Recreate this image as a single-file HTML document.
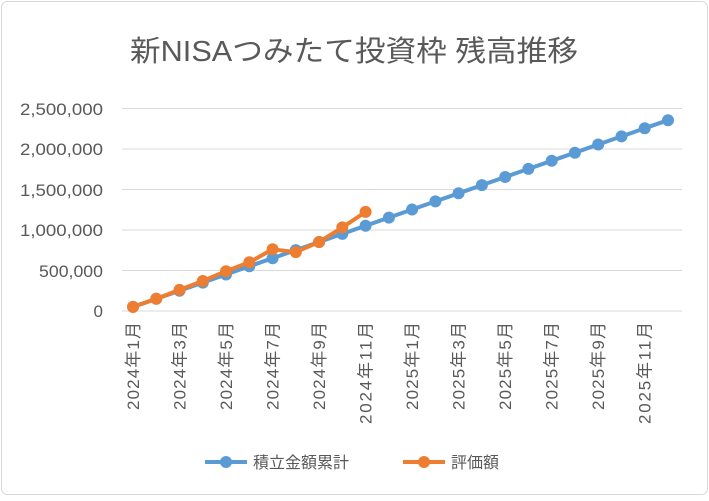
<!DOCTYPE html>
<html><head><meta charset="utf-8"><style>
body{margin:0;background:#fff;}
svg text{font-family:"Liberation Sans","Noto Sans CJK JP",sans-serif;fill:#595959;}
</style></head><body>
<svg width="709" height="496" viewBox="0 0 709 496" xmlns="http://www.w3.org/2000/svg">
<rect x="1.5" y="1.5" width="706" height="493" rx="6" fill="#fff" stroke="#d9d9d9"/>
<text x="354" y="61" font-size="29" text-anchor="middle" textLength="448" lengthAdjust="spacingAndGlyphs">新NISAつみたて投資枠 残高推移</text>
<g stroke="#d9d9d9" stroke-width="1">
<line x1="122" x2="682" y1="108.5" y2="108.5"/><line x1="122" x2="682" y1="149" y2="149"/>
<line x1="122" x2="682" y1="189.5" y2="189.5"/><line x1="122" x2="682" y1="230" y2="230"/>
<line x1="122" x2="682" y1="270.5" y2="270.5"/><line x1="122" x2="682" y1="311" y2="311"/>
</g>
<g font-size="17" text-anchor="end">
<text x="103" y="115" textLength="83" lengthAdjust="spacingAndGlyphs">2,500,000</text><text x="103" y="155" textLength="83" lengthAdjust="spacingAndGlyphs">2,000,000</text>
<text x="103" y="196" textLength="83" lengthAdjust="spacingAndGlyphs">1,500,000</text><text x="103" y="236" textLength="83" lengthAdjust="spacingAndGlyphs">1,000,000</text>
<text x="103" y="277" textLength="64" lengthAdjust="spacingAndGlyphs">500,000</text><text x="103" y="317">0</text>
</g>
<g font-size="17" text-anchor="end" lengthAdjust="spacingAndGlyphs">
<text transform="translate(139,322) rotate(-90)" textLength="88">2024年1月</text>
<text transform="translate(185.5,322) rotate(-90)" textLength="88">2024年3月</text>
<text transform="translate(232,322) rotate(-90)" textLength="88">2024年5月</text>
<text transform="translate(278.6,322) rotate(-90)" textLength="88">2024年7月</text>
<text transform="translate(325.1,322) rotate(-90)" textLength="88">2024年9月</text>
<text transform="translate(371.6,322) rotate(-90)" textLength="102">2024年11月</text>
<text transform="translate(418.1,322) rotate(-90)" textLength="88">2025年1月</text>
<text transform="translate(464.6,322) rotate(-90)" textLength="88">2025年3月</text>
<text transform="translate(511.2,322) rotate(-90)" textLength="88">2025年5月</text>
<text transform="translate(557.7,322) rotate(-90)" textLength="88">2025年7月</text>
<text transform="translate(604.2,322) rotate(-90)" textLength="88">2025年9月</text>
<text transform="translate(650.7,322) rotate(-90)" textLength="102">2025年11月</text>
</g>
<polyline fill="none" stroke="#5b9bd5" stroke-width="4" stroke-linejoin="round" points="133,306.9 156.3,298.8 179.5,290.7 202.8,282.6 226,274.5 249.3,266.3 272.6,258.2 295.8,250.1 319.1,242 342.3,233.9 365.6,225.7 388.9,217.6 412.1,209.5 435.4,201.4 458.6,193.3 481.9,185.1 505.2,177 528.4,168.9 551.7,160.8 574.9,152.7 598.2,144.5 621.5,136.4 644.7,128.3 668,120.2"/>
<g fill="#5b9bd5">
<circle cx="133" cy="306.9" r="6"/><circle cx="156.3" cy="298.8" r="6"/><circle cx="179.5" cy="290.7" r="6"/><circle cx="202.8" cy="282.6" r="6"/><circle cx="226" cy="274.5" r="6"/><circle cx="249.3" cy="266.3" r="6"/><circle cx="272.6" cy="258.2" r="6"/><circle cx="295.8" cy="250.1" r="6"/><circle cx="319.1" cy="242" r="6"/><circle cx="342.3" cy="233.9" r="6"/><circle cx="365.6" cy="225.7" r="6"/><circle cx="388.9" cy="217.6" r="6"/><circle cx="412.1" cy="209.5" r="6"/><circle cx="435.4" cy="201.4" r="6"/><circle cx="458.6" cy="193.3" r="6"/><circle cx="481.9" cy="185.1" r="6"/><circle cx="505.2" cy="177" r="6"/><circle cx="528.4" cy="168.9" r="6"/><circle cx="551.7" cy="160.8" r="6"/><circle cx="574.9" cy="152.7" r="6"/><circle cx="598.2" cy="144.5" r="6"/><circle cx="621.5" cy="136.4" r="6"/><circle cx="644.7" cy="128.3" r="6"/><circle cx="668" cy="120.2" r="6"/>
</g>
<polyline fill="none" stroke="#ed7d31" stroke-width="4" stroke-linejoin="round" points="133,306.9 156.3,298.8 179.5,289.9 202.8,281 226,271.2 249.3,262.3 272.6,249.3 295.8,252.1 319.1,242 342.3,227.4 365.6,211.9"/>
<g fill="#ed7d31">
<circle cx="133" cy="306.9" r="6"/><circle cx="156.3" cy="298.8" r="6"/><circle cx="179.5" cy="289.9" r="6"/><circle cx="202.8" cy="281" r="6"/><circle cx="226" cy="271.2" r="6"/><circle cx="249.3" cy="262.3" r="6"/><circle cx="272.6" cy="249.3" r="6"/><circle cx="295.8" cy="252.1" r="6"/><circle cx="319.1" cy="242" r="6"/><circle cx="342.3" cy="227.4" r="6"/><circle cx="365.6" cy="211.9" r="6"/>
</g>
<line x1="205" x2="247" y1="462" y2="462" stroke="#5b9bd5" stroke-width="4"/><circle cx="226" cy="462" r="6" fill="#5b9bd5"/>
<text x="253" y="468" font-size="16">積立金額累計</text>
<line x1="403" x2="445" y1="462" y2="462" stroke="#ed7d31" stroke-width="4"/><circle cx="424" cy="462" r="6" fill="#ed7d31"/>
<text x="451" y="468" font-size="16">評価額</text>
</svg>
</body></html>
